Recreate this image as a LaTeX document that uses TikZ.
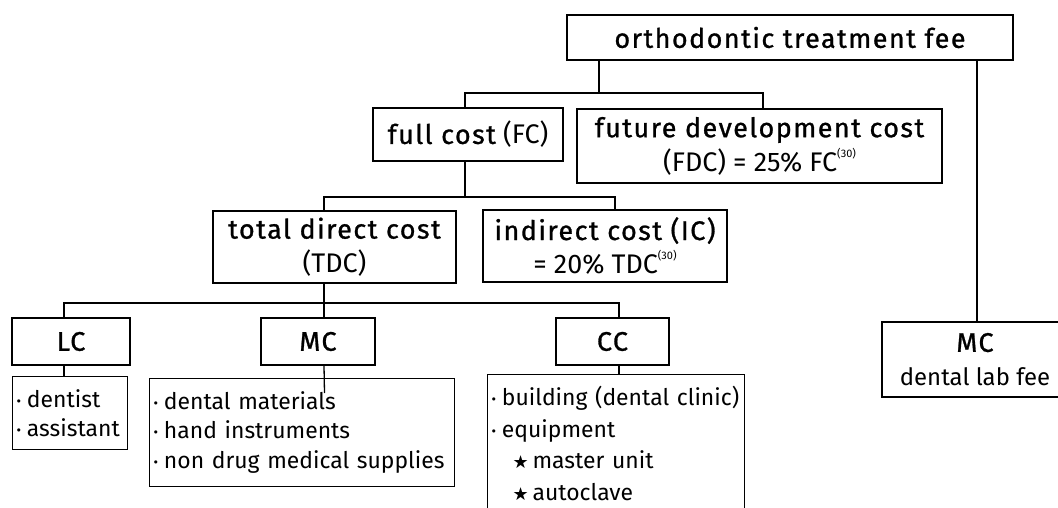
\documentclass[tikz,border=0pt]{standalone}
\usepackage{fontspec}
\setmainfont{Fira Sans}
\newfontfamily\headfont{Fira Sans}[FakeBold=1, LetterSpace=5.5]
\newfontfamily\symfont{DejaVu Sans}
\newcommand{\refno}[1]{\raisebox{14bp}{\fontsize{11}{11}\selectfont(#1)}}
\newcommand{\dotitem}{{\symfont\fontsize{11}{11}\selectfont\raisebox{2bp}{•}}\hspace{5bp}}
\newcommand{\staritem}{\rule{22bp}{0pt}{\symfont\fontsize{18}{18}\selectfont ★}\hspace{4bp}}
\newcommand{\headtext}[1]{{\headfont\fontsize{27}{34}\selectfont #1}}
\begin{document}
\begin{tikzpicture}[x=1bp,y=-1bp,
  costbox/.style={draw, line width=1.4bp, inner sep=0pt, align=center,
    font=\fontsize{27}{34}\selectfont},
  listbox/.style={draw, line width=1bp, inner sep=0pt, inner xsep=3bp,
    align=left, anchor=north west, font=\fontsize{23}{30}\selectfont},
  link/.style={line width=1.3bp}]
\useasboundingbox (0,0) rectangle (1058,508);
%%
  % Node: fee
  \node[costbox, minimum width=446bp, minimum height=45bp] (fee) at (790,37.5)
    {\headtext{orthodontic treatment fee}};
  % Node: fc
  \node[costbox, minimum width=190bp, minimum height=53bp] (fc) at (468,134.5)
    {\headtext{full cost} (FC)};
  % Node: fdc
  \node[costbox, minimum width=365bp, minimum height=74bp] (fdc) at (759.5,146)
    {\headtext{future development cost}\\(FDC) = 25\% FC\refno{30}};
  % Node: tdc
  \node[costbox, minimum width=243bp, minimum height=72bp] (tdc) at (334.5,247)
    {\headtext{total direct cost}\\(TDC)};
  % Node: ic
  \node[costbox, minimum width=244bp, minimum height=72bp] (ic) at (605,246)
    {\headtext{indirect cost (IC)}\\= 20\% TDC\refno{30}};
  % Node: lc, mc, cc
  \node[costbox, minimum width=118bp, minimum height=47bp] (lc) at (71,341.5)
    {\headtext{LC}};
  \node[costbox, minimum width=114bp, minimum height=47bp] (mc) at (318,341.5)
    {\headtext{MC}};
  \node[costbox, minimum width=113bp, minimum height=47bp] (cc) at (612.5,341.5)
    {\headtext{CC}};
  % Node: lab
  \node[costbox, minimum width=186bp, minimum height=75bp, font=\fontsize{24}{34}\selectfont] (lab) at (975,359.5)
    {\headtext{MC}\\dental lab fee};
  % Node: item lists
  \node[listbox, text width=109bp, minimum height=73bp, font=\fontsize{23}{29}\selectfont] (lcitems) at (12,376)
    {\dotitem dentist\\\dotitem assistant};
  \node[listbox, text width=299bp, minimum height=108bp] (mcitems) at (149,378)
    {\dotitem dental materials\\\dotitem hand instruments\\\dotitem non drug medical supplies};
  \node[listbox, text width=251bp, minimum height=138bp, font=\fontsize{23}{32}\selectfont] (ccitems) at (487,374)
    {\dotitem building (dental clinic)\\\dotitem equipment\\\staritem master unit\\\staritem autoclave};
%%
  \coordinate (jfee) at (599,93);
  \coordinate (jfc) at (465,197);
  \coordinate (jtdc) at (324,303);
  % Edge: fee -> fc, fdc
  \draw[link] (fee.south -| jfee) -- (jfee);
  \draw[link] ([xshift=-3bp]fc.north) |- (jfee) -| ([xshift=3.5bp]fdc.north);
  % Edge: fee -> lab
  \draw[link] ([xshift=2bp]lab.north |- fee.south) -- ([xshift=2bp]lab.north);
  % Edge: fc -> tdc, ic
  \draw[link] (fc.south -| jfc) -- (jfc);
  \draw[link] ([xshift=-10.5bp]tdc.north) |- (jfc) -| ([xshift=10bp]ic.north);
  % Edge: tdc -> lc, mc, cc
  \draw[link] (tdc.south -| jtdc) -- (jtdc);
  \draw[link] ([xshift=-7bp]lc.north) |- (jtdc) -| ([xshift=6.5bp]cc.north);
  \draw[link] ([xshift=6bp]mc.north) -- ([xshift=6bp]mc.north |- jtdc);
  % Edge: heads -> item lists
  \draw[link] ([xshift=-7bp]lc.south) -- ([xshift=-7bp]lc.south |- lcitems.north);
  \draw[link] ([xshift=6bp]mc.south) -- ([xshift=22.5bp,yshift=-15bp]mcitems.north);
  \draw[link] ([xshift=6.5bp]cc.south) -- ([xshift=6.5bp]cc.south |- ccitems.north);
%
\end{tikzpicture}
\end{document}
